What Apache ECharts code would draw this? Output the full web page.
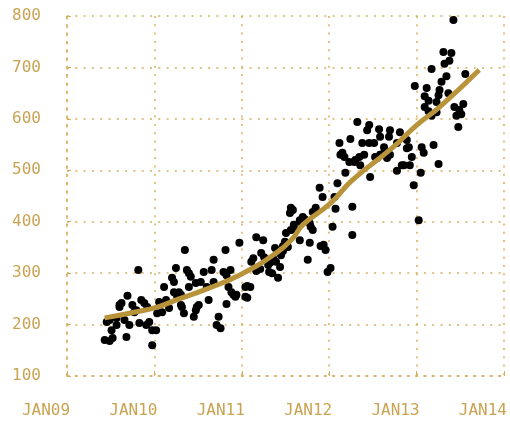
<!DOCTYPE html>
<html>
<head>
<meta charset="utf-8">
<script src="https://cdn.jsdelivr.net/npm/echarts@6/dist/echarts.min.js"></script>
<style>
html,body{margin:0;padding:0;background:#fff;}
#chart{width:510px;height:422px;}
</style>
</head>
<body>
<div id="chart"></div>
<script>
// Scatter observations: decimal year and value
const pointYears = [
2009.431,2009.488,2009.522,2009.454,2009.488,2009.510,2009.567,2009.567,2009.601,2009.624,2009.601,2009.658,2009.680,2009.692,2009.714,2009.748,2009.771,2009.794,2009.816,2009.828,2009.850,2009.884,2009.907,2009.941,2009.918,2009.975,2010.020,2009.975,2010.032,
2010.054,2010.088,2010.134,2010.088,2010.111,2010.168,2010.202,2010.224,2010.224,2010.281,2010.259,2010.304,2010.247,2010.315,2010.338,2010.304,2010.349,2010.372,2010.395,2010.417,2010.395,2010.474,2010.531,2010.451,2010.485,2010.508,2010.474,
2010.565,2010.621,2010.655,2010.678,2010.599,2010.678,2010.712,2010.757,2010.735,2010.814,2010.791,2010.825,2010.871,2010.848,2010.882,2010.905,2010.927,2010.939,2010.825,2010.973,2011.041,2011.063,2011.041,2011.063,2011.109,2011.132,2011.154,2011.166,2011.166,2011.098,
2011.211,2011.222,2011.245,2011.256,2011.302,2011.313,2011.347,2011.324,2011.358,2011.381,2011.392,2011.415,2011.438,2011.449,2011.472,2011.472,2011.494,2011.506,2011.528,2011.551,2011.562,2011.562,2011.585,2011.596,2011.619,2011.664,2011.664,2011.676,
2011.698,2011.721,2011.755,2011.778,2011.778,2011.789,2011.812,2011.812,2011.846,2011.891,2011.925,2011.902,2011.937,2011.959,2011.982,2012.016,2012.039,2012.061,2012.073,2012.095,2012.118,2012.129,2012.152,2012.175,2012.186,2012.231,2012.243,2012.265,2012.265,2012.288,2012.299,2012.322,
2012.345,2012.356,2012.379,2012.401,2012.435,2012.458,2012.458,2012.469,2012.515,2012.526,2012.549,2012.571,2012.583,2012.583,2012.628,2012.628,2012.662,2012.685,2012.696,2012.696,2012.776,2012.776,2012.810,2012.832,2012.855,2012.889,2012.889,2012.912,2012.923,2012.946,2012.968,2012.980,
2013.025,2013.048,2013.059,2013.082,2013.093,2013.093,2013.116,2013.138,2013.138,2013.172,2013.172,2013.195,2013.229,2013.229,2013.252,2013.252,2013.263,2013.286,2013.308,2013.320,2013.342,2013.365,2013.376,2013.399,2013.422,2013.433,2013.456,2013.478,2013.490,2013.512,2013.535,2013.558
];
const pointValues = [
170,168,174,205,209,189,199,213,238,242,234,209,176,256,199,238,224,228,306,203,248,242,199,205,234,189,189,160,222,
244,242,248,224,273,232,291,283,263,263,256,258,310,234,222,238,345,306,300,293,273,281,283,215,234,238,228,
302,248,306,326,273,283,199,193,215,345,302,296,306,273,263,258,254,258,240,359,273,275,254,252,322,329,310,370,304,273,
308,339,364,331,316,302,300,320,329,349,322,291,312,335,343,353,361,378,351,417,427,384,423,394,384,403,364,399,
409,405,326,397,359,390,384,419,427,466,448,353,355,345,302,310,390,448,425,475,553,530,534,526,495,516,561,429,374,516,520,594,
526,510,553,530,578,588,553,487,553,526,524,580,565,530,545,534,524,565,578,530,553,499,574,510,510,559,543,545,510,526,471,664,
403,495,545,534,644,623,660,635,615,697,606,549,633,613,646,512,656,672,730,707,683,650,713,728,792,623,606,584,617,609,629,687
];
// Smoothed trend line
const trendYears  = [2009.431,2009.714,2010.032,2010.281,2010.565,2010.995,2011.392,2011.585,2011.698,2012.016,2012.265,2012.719,2013.002,2013.263,2013.717];
const trendValues = [213,222,234,250,267,298,339,368,394,436,481,543,588,623,695];
// Axis ticks
const xTicks = [2009,2010,2011,2012,2013,2014];
const yTicks = [100,200,300,400,500,600,700,800];

const gold = '#C9A352';
const gridGold = '#D6AE5E';
const dotted = {color: gridGold, width: 1.5, type: [2, 6.3]};
const labelFont = {fontFamily: 'DejaVu Sans Mono', fontSize: 16, color: gold};

const chart = echarts.init(document.getElementById('chart'));
chart.setOption({
  animation: false,
  backgroundColor: '#fff',
  grid: {left: 67, right: 2, top: 16, bottom: 46},
  xAxis: {
    type: 'value',
    min: xTicks[0], max: xTicks[xTicks.length - 1], interval: 1,
    axisLine: {show: true, lineStyle: dotted},
    axisTick: {show: true, inside: true, length: 5, lineStyle: {color: gridGold, width: 1}},
    splitLine: {show: true, lineStyle: dotted},
    axisLabel: Object.assign({}, labelFont, {
      margin: 27, align: 'center', padding: [0, 42, 0, 0],
      formatter: v => 'JAN' + String(v).slice(2)
    })
  },
  yAxis: {
    type: 'value',
    min: yTicks[0], max: yTicks[yTicks.length - 1], interval: 100,
    axisLine: {show: true, lineStyle: dotted},
    axisTick: {show: true, inside: true, length: 4, lineStyle: {color: gridGold, width: 1}},
    splitLine: {show: true, lineStyle: dotted},
    axisLabel: Object.assign({}, labelFont, {margin: 26, padding: [0, 0, 9, 0]})
  },
  series: [
    {
      type: 'scatter',
      data: pointYears.map((y, i) => [y, pointValues[i]]),
      symbolSize: 8,
      itemStyle: {color: '#000', opacity: 1},
      z: 2
    },
    {
      type: 'line',
      data: trendYears.map((y, i) => [y, trendValues[i]]),
      smooth: true,
      symbol: 'none',
      lineStyle: {color: '#B8933A', width: 5},
      z: 3
    }
  ]
});
</script>
</body>
</html>
